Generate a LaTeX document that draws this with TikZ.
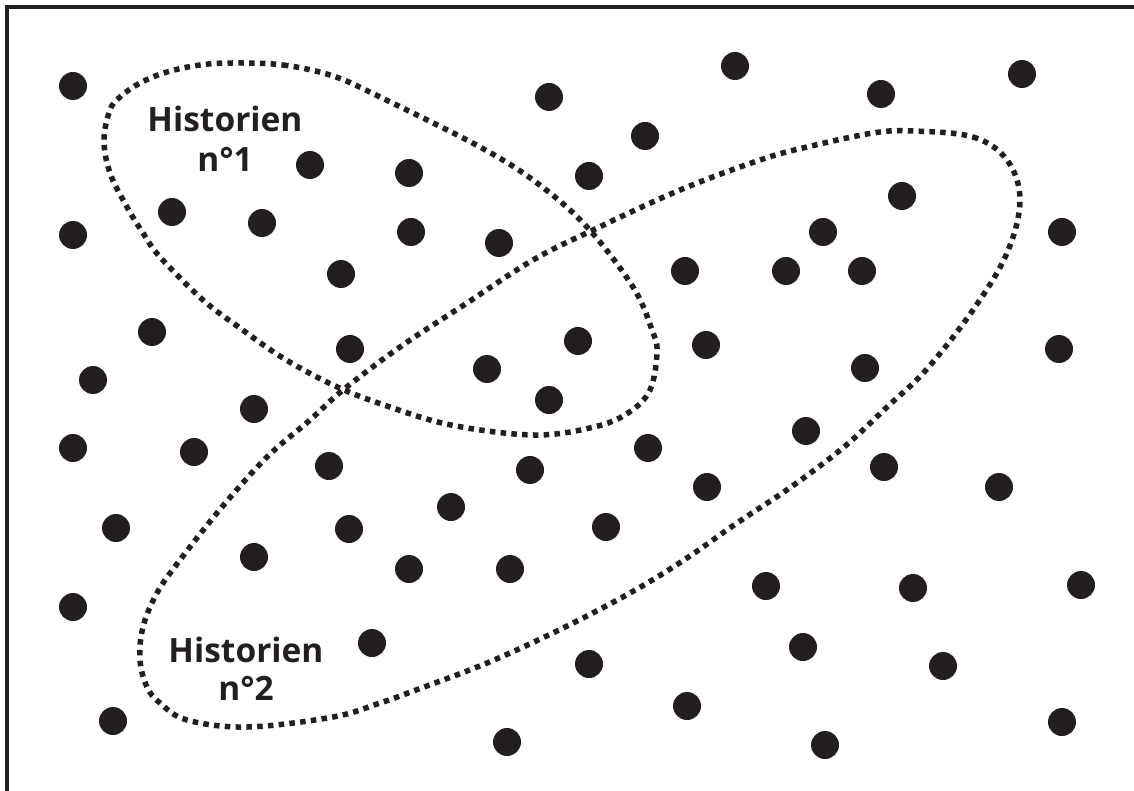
\documentclass[tikz,border=0pt]{standalone}
\usepackage{fontspec}
\setmainfont{Open Sans}
\definecolor{ink}{HTML}{231F20}
\begin{document}
\begin{tikzpicture}[x=1pt,y=-1pt,
  dotn/.style={circle,fill=ink,draw=none,minimum size=28pt,inner sep=0pt},
  dottedloop/.style={draw=ink,line width=5.5pt,dash pattern=on 5.5pt off 5.3pt},
  frameline/.style={draw=ink,line width=4pt},
  lab/.style={text=ink,font=\fontsize{33.5}{40}\selectfont\bfseries,inner sep=0pt,anchor=base}]
\useasboundingbox (0,0) rectangle (1134,791);
% frame (top and left edges only)
\coordinate (fbl) at (7,791);
\coordinate (ftl) at (7,7);
\coordinate (ftr) at (1134,7);
\draw[frameline] (fbl) -- (ftl) -- (ftr);
% dots
\foreach \x/\y [count=\i] in {
73/86, 549/97, 735/66, 881/94, 1022/74, 645/136, 310/165, 409/173, 589/176, 902/196,
172/212, 262/223, 411/232, 499/243, 73/235, 823/232, 1062/232, 341/274, 685/271, 786/271,
862/271, 152/332, 350/349, 578/341, 706/345, 1059/349, 93/380, 487/369, 865/368, 549/400,
254/409, 73/448, 194/452, 648/448, 806/431, 329/466, 530/470, 884/467, 707/487, 999/487,
451/507, 116/528, 349/529, 606/527, 254/557, 409/569, 510/569, 766/586, 913/588, 1081/585,
73/607, 372/643, 803/647, 589/664, 943/666, 687/706, 113/721, 507/742, 825/745, 1062/722}
  \node[dotn] (d\i) at (\x,\y) {};
% loop of historian 1
\draw[dottedloop] plot[smooth cycle,tension=0.6] coordinates {
(233,63) (283,65) (333,76) (380,97) (480,147) (537,183) (587,227) (633,287) (652,330)
(657,352) (650,390) (628,413) (594,427) (534,435) (451,425) (384,405) (333,385) (283,358)
(240,328) (203,300) (160,257) (143,233) (127,207) (110,173) (104,140) (110,110) (120,97)
(140,83) (167,72) (200,65)};
% loop of historian 2
\draw[dottedloop] plot[smooth cycle,tension=0.6] coordinates {
(913,131) (973,137) (1007,160) (1020,200) (1007,253) (973,310) (926,370) (887,407)
(844,447) (791,487) (737,523) (684,560) (630,593) (559,630) (487,663) (416,690)
(380,703) (333,717) (247,727) (187,720) (160,703) (147,687) (140,660) (143,627)
(157,593) (180,560) (222,507) (267,457) (310,420) (343,390) (400,347) (467,303)
(533,260) (593,230) (680,190) (760,160) (807,147) (873,133)};
% labels
\node[lab] (h1a) at (225,132) {Historien};
\node[lab] (h1b) at (225,172) {n°1};
\node[lab] (h2a) at (246,662) {Historien};
\node[lab] (h2b) at (246,700) {n°2};
\end{tikzpicture}
\end{document}
